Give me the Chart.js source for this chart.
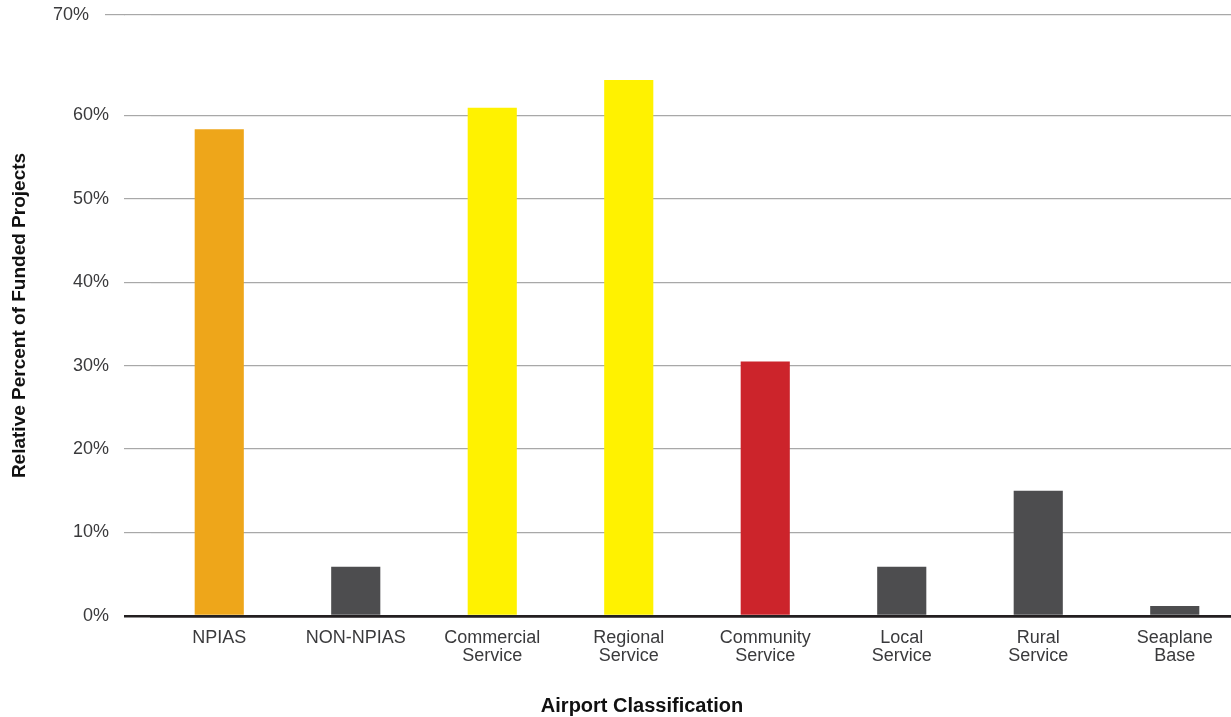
<!DOCTYPE html>
<html>
<head>
<meta charset="utf-8">
<script src="https://cdn.jsdelivr.net/npm/chart.js@4/dist/chart.umd.min.js"></script>
<style>
  html, body { margin: 0; padding: 0; background: #ffffff; overflow: hidden; }
  #wrap { position: relative; width: 1243px; height: 717px; }
</style>
</head>
<body>
<div id="wrap"><canvas id="chart"></canvas></div>
<script>
// Airport classifications (multi-line labels as arrays)
const categories = [
  'NPIAS',
  'NON-NPIAS',
  ['Commercial', 'Service'],
  ['Regional', 'Service'],
  ['Community', 'Service'],
  ['Local', 'Service'],
  ['Rural', 'Service'],
  ['Seaplane', 'Base']
];

// Relative percent of funded projects
const fundedShare = [58.3, 5.9, 60.9, 64.2, 30.5, 5.9, 15.0, 1.2];

const barColors = ['#eea61a', '#4d4d4f', '#fff200', '#fff200', '#cc242b', '#4d4d4f', '#4d4d4f', '#4d4d4f'];

// Value axis ticks and their printed labels
const yTickValues = [0, 10, 20, 30, 40, 50, 60, 72];
const yTickLabels = ['0%', '10%', '20%', '30%', '40%', '50%', '60%', '70%'];

const FONT = "'Liberation Sans', Arial, Helvetica, sans-serif";
const TEXT = '#3a3a3c';
const GRID = '#a8a8a8';
const AXIS = '#231f20';
const GRID_W = 1.2;
const TICK_LEN = 27;
const TOP_EXTRA = 19;

// the topmost grid line reaches a little further left than the others
const topGridExtension = {
  id: 'topGridExtension',
  afterDraw(chart) {
    const y = chart.scales.y;
    const raw = y.getPixelForValue(yTickValues[yTickValues.length - 1]);
    const half = GRID_W / 2;
    const py = Math.round(raw - half) + half;
    const x2 = y.right - TICK_LEN;
    const ctx = chart.ctx;
    ctx.save();
    ctx.strokeStyle = GRID;
    ctx.lineWidth = GRID_W;
    ctx.beginPath();
    ctx.moveTo(x2 - TOP_EXTRA, py);
    ctx.lineTo(x2 + 1, py);
    ctx.stroke();
    ctx.restore();
  }
};

const isZero = (ctx) => ctx.tick && ctx.tick.value === 0;

new Chart(document.getElementById('chart'), {
  type: 'bar',
  data: {
    labels: categories,
    datasets: [{
      data: fundedShare,
      backgroundColor: barColors,
      borderWidth: 0,
      categoryPercentage: 1.0,
      barPercentage: 0.36
    }]
  },
  options: {
    responsive: true,
    maintainAspectRatio: false,
    animation: false,
    layout: { padding: { top: 15, right: 0, bottom: 0, left: 0 } },
    plugins: {
      legend: { display: false },
      tooltip: { enabled: false }
    },
    scales: {
      x: {
        grid: { display: false, drawTicks: false },
        border: { display: true, color: AXIS, width: 2.5, z: 1 },
        ticks: {
          color: TEXT,
          padding: 13,
          maxRotation: 0,
          autoSkip: false,
          font: { family: FONT, size: 18, lineHeight: 1.0 }
        },
        title: {
          display: true,
          text: 'Airport Classification' + '\u2003'.repeat(5) + '\u2002',
          color: '#111111',
          padding: { top: 0, bottom: 0 },
          font: { family: FONT, size: 20, weight: 'bold', lineHeight: 1.1 }
        },
        afterFit(scale) { scale.height = 101; }
      },
      y: {
        min: 0,
        max: 72,
        afterBuildTicks(scale) {
          scale.ticks = yTickValues.map(v => ({ value: v }));
        },
        grid: {
          drawTicks: true,
          tickLength: TICK_LEN,
          color: (ctx) => isZero(ctx) ? AXIS : GRID,
          tickColor: (ctx) => isZero(ctx) ? AXIS : GRID,
          lineWidth: (ctx) => isZero(ctx) ? 2.5 : GRID_W,
          tickWidth: (ctx) => isZero(ctx) ? 2.5 : GRID_W
        },
        border: { display: false },
        ticks: {
          color: TEXT,
          padding: 15,
          font: { family: FONT, size: 18 },
          callback(value, index) {
            const label = yTickLabels[yTickValues.indexOf(value)];
            // the top label sits further left, in line with its longer grid line
            return index === yTickValues.length - 1 ? label + '    ' : label;
          }
        },
        title: {
          display: true,
          text: 'Relative Percent of Funded Projects',
          color: '#111111',
          padding: { top: 8, bottom: 0 },
          font: { family: FONT, size: 19, weight: 'bold', lineHeight: 1.2 }
        },
        afterFit(scale) {
          scale.width = 151;
          // plot area edges are set by the layout padding alone
          scale.paddingTop = 0;
          scale.paddingBottom = 0;
        }
      }
    }
  },
  plugins: [topGridExtension]
});
</script>
</body>
</html>
